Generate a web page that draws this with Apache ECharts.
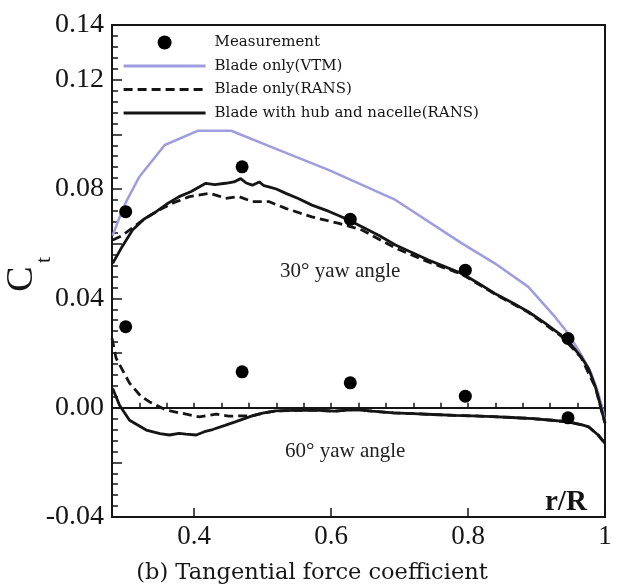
<!DOCTYPE html>
<html>
<head>
<meta charset="utf-8">
<script src="https://cdn.jsdelivr.net/npm/echarts@6/dist/echarts.min.js"></script>
<style>
  html, body { margin: 0; padding: 0; background: #fff; }
  #chart { width: 618px; height: 586px; }
</style>
</head>
<body>
<div id="chart"></div>
<script>
// Radial positions (r/R) of the measured stations
const measX = [0.300, 0.470, 0.628, 0.796, 0.946];
const meas30 = [0.0717, 0.0881, 0.0689, 0.0503, 0.0253];
const meas60 = [0.0296, 0.0131, 0.0091, 0.0042, -0.0037];

// Blade only (VTM), 30 deg yaw
const vtmX = [0.281, 0.290, 0.300, 0.320, 0.357, 0.405, 0.454, 0.524, 0.597, 0.694, 0.791, 0.839, 0.888, 0.927, 0.946, 0.965, 0.980, 0.990, 0.996, 1.000];
const vtmY = [0.0630, 0.0690, 0.0750, 0.0845, 0.0961, 0.1013, 0.1013, 0.0942, 0.0869, 0.0760, 0.0601, 0.0528, 0.0442, 0.0332, 0.0272, 0.0195, 0.0125, 0.0055, 0.0000, -0.0050];

// Blade with hub and nacelle (RANS), 30 deg yaw
const hub30X = [0.281, 0.295, 0.310, 0.327, 0.3445, 0.360, 0.378, 0.395, 0.417, 0.430, 0.446, 0.458, 0.468, 0.476, 0.485, 0.495, 0.502, 0.509, 0.520, 0.534, 0.552, 0.572, 0.597, 0.621, 0.645, 0.670, 0.694, 0.718, 0.742, 0.766, 0.791, 0.815, 0.839, 0.864, 0.888, 0.912, 0.936, 0.950, 0.965, 0.976, 0.986, 0.991, 0.995, 1.000];
const hub30Y = [0.0528, 0.0590, 0.0650, 0.0690, 0.0717, 0.0745, 0.0772, 0.0790, 0.0821, 0.0816, 0.0821, 0.0826, 0.0838, 0.0822, 0.0814, 0.0826, 0.0812, 0.0808, 0.0800, 0.0784, 0.0765, 0.0741, 0.0718, 0.0692, 0.0662, 0.0630, 0.0595, 0.0568, 0.0540, 0.0516, 0.0491, 0.0455, 0.0418, 0.0385, 0.0351, 0.0310, 0.0265, 0.0232, 0.0186, 0.0143, 0.0076, 0.0030, -0.0010, -0.0055];

// Blade only (RANS), 30 deg yaw
const rans30X = [0.281, 0.295, 0.3056, 0.327, 0.349, 0.370, 0.393, 0.4226, 0.435, 0.446, 0.4655, 0.4846, 0.509, 0.5337, 0.572, 0.6115, 0.645, 0.694, 0.742, 0.791, 0.839, 0.888, 0.936, 0.965, 0.986, 0.995, 1.000];
const rans30Y = [0.0613, 0.0630, 0.0650, 0.0690, 0.0723, 0.0750, 0.0772, 0.0784, 0.0775, 0.0766, 0.0772, 0.0754, 0.0754, 0.0729, 0.0698, 0.0674, 0.0650, 0.0584, 0.0533, 0.0488, 0.0416, 0.0349, 0.0262, 0.0184, 0.0074, -0.0012, -0.0057];

// Blade with hub and nacelle (RANS), 60 deg yaw
const hub60X = [0.281, 0.291, 0.3056, 0.330, 0.350, 0.364, 0.378, 0.388, 0.403, 0.415, 0.427, 0.445, 0.461, 0.4846, 0.500, 0.519, 0.545, 0.576, 0.605, 0.634, 0.660, 0.691, 0.720, 0.749, 0.780, 0.807, 0.836, 0.864, 0.894, 0.922, 0.946, 0.968, 0.976, 0.990, 1.000];
const hub60Y = [0.0070, 0.0009, -0.0046, -0.0082, -0.0095, -0.0100, -0.0094, -0.0097, -0.0100, -0.0088, -0.0080, -0.0065, -0.0051, -0.0030, -0.0020, -0.0012, -0.0010, -0.0009, -0.0013, -0.0007, -0.0013, -0.0019, -0.0022, -0.0025, -0.0028, -0.0030, -0.0033, -0.0036, -0.0040, -0.0046, -0.0052, -0.0064, -0.0070, -0.0100, -0.0131];

// Blade only (RANS), 60 deg yaw
const rans60X = [0.280, 0.286, 0.3056, 0.322, 0.335, 0.359, 0.383, 0.4075, 0.432, 0.450, 0.470, 0.4846, 0.500, 0.519, 0.545, 0.576, 0.605, 0.634, 0.660, 0.691, 0.720, 0.749, 0.780, 0.807, 0.836, 0.864, 0.894, 0.922, 0.946, 0.968, 0.976, 0.990, 1.000];
const rans60Y = [0.0254, 0.0181, 0.0090, 0.0042, 0.0021, -0.0009, -0.0021, -0.0034, -0.0024, -0.0031, -0.0030, -0.0030, -0.0020, -0.0012, -0.0010, -0.0009, -0.0013, -0.0007, -0.0013, -0.0019, -0.0022, -0.0025, -0.0028, -0.0030, -0.0033, -0.0036, -0.0040, -0.0046, -0.0052, -0.0064, -0.0070, -0.0100, -0.0131];

// Axis tick labels that are printed
const xTickLabels = ['0.4', '0.6', '0.8', '1'];
const yTickLabels = ['-0.04', '0.00', '0.04', '0.08', '0.12', '0.14'];

const names = ['Measurement', 'Blade only(VTM)', 'Blade only(RANS)', 'Blade with hub and nacelle(RANS)'];

const zip = (xs, ys) => xs.map((x, i) => [x, ys[i]]);

const serif = '"Liberation Serif", "Times New Roman", serif';
const wideSerif = '"DejaVu Serif", serif';
const ink = '#151515';
const vtmColor = '#9d9de0';

const chart = echarts.init(document.getElementById('chart'), null, { renderer: 'canvas' });

const lineSeries = (name, xs, ys, color, type, width) => ({
  name, type: 'line', xAxisIndex: 0, yAxisIndex: 0,
  data: zip(xs, ys), symbol: 'none', smooth: false,
  lineStyle: { color, width, type }, itemStyle: { color },
  z: 3
});

chart.setOption({
  backgroundColor: '#ffffff',
  animation: false,
  grid: {
    left: 112, top: 25, width: 493, height: 492,
    show: true, borderColor: ink, borderWidth: 2, backgroundColor: 'transparent'
  },
  legend: {
    // line entries show only their stroke; the measurement entry keeps its dot
    data: [
      { name: names[0], itemStyle: { opacity: 1, color: '#000' } },
      { name: names[1] },
      { name: names[2] },
      { name: names[3] }
    ],
    orient: 'vertical',
    left: 122, top: 35, padding: 0,
    itemWidth: 82, itemHeight: 14, itemGap: 8.5,
    itemStyle: { opacity: 0 },
    lineStyle: { width: 3.2 },
    textStyle: { fontFamily: wideSerif, fontSize: 15, color: ink, padding: [0, 0, 0, 4] },
    selectedMode: false
  },
  xAxis: [{
    type: 'value', min: 0.28, max: 1.0, interval: 0.04, position: 'bottom',
    axisLine: { show: true, lineStyle: { color: ink, width: 2 } },
    axisTick: { show: true, inside: true, length: 5, lineStyle: { color: ink, width: 1.5 } },
    axisLabel: {
      show: true, margin: 6, color: ink, fontFamily: serif, fontSize: 27,
      formatter: v => {
        const s = String(Math.round(v * 100) / 100);
        return xTickLabels.includes(s) ? s : '';
      }
    },
    splitLine: { show: false }
  }, {
    type: 'value', min: 0.28, max: 1.0, position: 'bottom', gridIndex: 0,
    axisLine: { show: false },
    axisTick: { show: true, inside: true, length: 9, customValues: [0.4, 0.6, 0.8, 1.0], lineStyle: { color: ink, width: 1.5 } },
    axisLabel: { show: false },
    splitLine: { show: false }
  }],
  yAxis: {
    type: 'value', min: -0.04, max: 0.14, interval: 0.02,
    axisLine: { show: true, lineStyle: { color: ink, width: 2 } },
    axisTick: { show: true, inside: true, length: 10, lineStyle: { color: ink, width: 1.5 } },
    minorTick: { show: true, splitNumber: 5, length: 6, lineStyle: { color: ink, width: 1.5 } },
    axisLabel: {
      show: true, inside: false, margin: 8, color: ink, fontFamily: serif, fontSize: 28,
      formatter: v => {
        const s = (Math.round(v * 100) / 100).toFixed(2);
        return yTickLabels.includes(s) ? s : '';
      }
    },
    splitLine: { show: false }
  },
  graphic: [
    { type: 'text', x: 22, y: 279, rotation: Math.PI / 2,
      style: { text: 'C', font: '38px ' + serif, fill: ink, align: 'center', verticalAlign: 'middle' } },
    { type: 'text', x: 44, y: 260, rotation: Math.PI / 2,
      style: { text: 't', font: '22px ' + serif, fill: ink, align: 'center', verticalAlign: 'middle' } },
    { type: 'text', x: 545, y: 503,
      style: { text: 'r/R', font: 'bold 29px ' + serif, fill: ink, align: 'left', verticalAlign: 'middle' } },
    { type: 'text', x: 280, y: 271,
      style: { text: '30° yaw angle', font: '21px ' + serif, fill: '#222', align: 'left', verticalAlign: 'middle' } },
    { type: 'text', x: 285, y: 451,
      style: { text: '60° yaw angle', font: '21px ' + serif, fill: '#222', align: 'left', verticalAlign: 'middle' } },
    { type: 'text', x: 312, y: 573,
      style: { text: '(b) Tangential force coefficient', font: '22.5px ' + wideSerif, fill: ink, align: 'center', verticalAlign: 'middle' } }
  ],
  series: [
    lineSeries(names[1], vtmX, vtmY, vtmColor, 'solid', 2.5),
    lineSeries(names[2], rans30X, rans30Y, ink, [9, 5], 2.8),
    lineSeries(names[2], rans60X, rans60Y, ink, [9, 5], 2.8),
    lineSeries(names[3], hub30X, hub30Y, ink, 'solid', 2.8),
    lineSeries(names[3], hub60X, hub60Y, ink, 'solid', 2.8),
    { name: names[0], type: 'scatter', data: zip(measX, meas30), symbol: 'circle', symbolSize: 13,
      itemStyle: { color: '#000', opacity: 1 }, z: 5 },
    { name: names[0], type: 'scatter', data: zip(measX, meas60), symbol: 'circle', symbolSize: 13,
      itemStyle: { color: '#000', opacity: 1 }, z: 5 }
  ]
});
</script>
</body>
</html>
